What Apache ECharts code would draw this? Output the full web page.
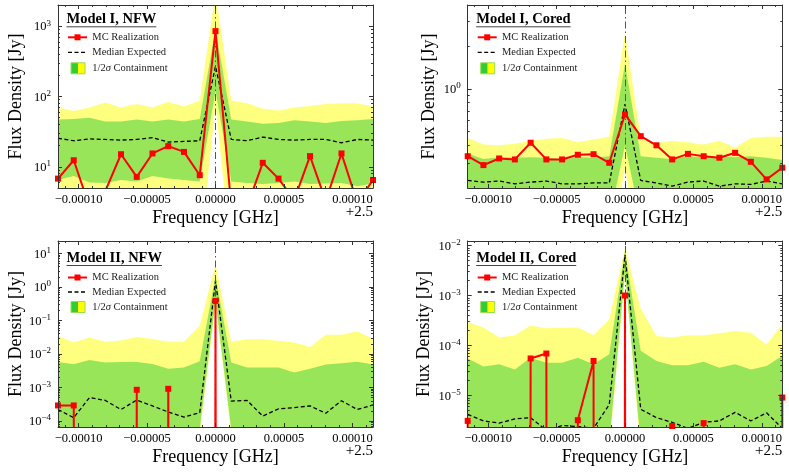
<!DOCTYPE html>
<html><head><meta charset="utf-8">
<script src="https://cdn.jsdelivr.net/npm/echarts@6/dist/echarts.min.js"></script>
<style>html,body{margin:0;padding:0;background:#fff}#c{width:789px;height:473px}</style>
</head><body><div id="c"></div>
<script>
// ---------------- DATA ----------------
// frequency offset from 2.5 GHz (bin centres)
const freqOffset = [-0.000115, -0.0001035, -0.000092, -0.0000805, -0.000069, -0.0000575, -0.000046, -0.0000345, -0.000023, -0.0000115, 0,
  0.0000115, 0.000023, 0.0000345, 0.000046, 0.0000575, 0.000069, 0.0000805, 0.000092, 0.0001035, 0.000115];
const xRange = [-0.000115, 0.000115];
const xOffsetLabel = '+2.5';
const panelTitles = ['Model I, NFW', 'Model I, Cored', 'Model II, NFW', 'Model II, Cored'];
const legendLabels = ['MC Realization', 'Median Expected', '1/2σ Containment'];
const xAxisName = 'Frequency [GHz]';
const yAxisName = 'Flux Density [Jy]';
const yRanges = [[5, 2000], [0.2, 3.9], [6.6e-5, 23.3], [2.34e-6, 0.0123]];

// Panel 1: Model I, NFW
const p1Mc  = [6.8, 12.4, 2.7, 4.5, 15.1, 7.2, 15.5, 19.7, 16.3, 7.6, 850, 2.8, 2.7, 11.4, 6.8, 3.4, 14.2, 3.3, 15.5, 3.1, 6.5];
const p1Med = [25.5, 23.5, 25, 24.5, 24, 24.5, 26, 22.5, 23, 23.5, 270, 24.5, 23.5, 26.5, 24.5, 24, 24.5, 24.5, 22, 24.5, 24];
const p1Hi1 = [47, 48, 50, 44, 44, 47, 44, 47, 44, 48, 900, 47, 44, 41, 42, 46, 44, 42, 45, 46, 48];
const p1Hi2 = [70, 62, 70, 82, 70, 78, 70, 84, 72, 88, 3000, 88, 80, 67, 63, 70, 73, 78, 80, 80, 72];
const p1Lo1 = [6.5, 7.4, 6.0, 5.9, 6.5, 6.2, 7.4, 6.8, 6.5, 6.2, 120, 6.2, 5.9, 5.7, 5.9, 6.2, 5.7, 5.8, 5.9, 5.3, 5.8];
const p1Lo2 = [3.6, 3.9, 3.4, 3.5, 3.7, 3.6, 4.0, 3.8, 3.6, 0.5, 80, 0.5, 3.5, 3.4, 3.5, 3.6, 3.3, 3.4, 3.5, 3.1, 3.4];

// Panel 2: Model I, Cored
const p2Mc  = [0.335, 0.29, 0.323, 0.318, 0.417, 0.318, 0.318, 0.343, 0.346, 0.301, 0.66, 0.464, 0.40, 0.318, 0.348, 0.335, 0.327, 0.354, 0.306, 0.23, 0.278];
const p2Med = [0.226, 0.22, 0.224, 0.214, 0.22, 0.224, 0.214, 0.214, 0.217, 0.217, 0.78, 0.226, 0.217, 0.206, 0.22, 0.224, 0.206, 0.214, 0.212, 0.224, 0.214];
const p2Hi1 = [0.35, 0.32, 0.33, 0.327, 0.33, 0.327, 0.32, 0.33, 0.327, 0.335, 1.5, 0.335, 0.327, 0.32, 0.335, 0.33, 0.335, 0.33, 0.335, 0.327, 0.315];
const p2Hi2 = [0.45, 0.405, 0.40, 0.41, 0.43, 0.445, 0.45, 0.42, 0.44, 0.46, 2.5, 0.45, 0.415, 0.43, 0.42, 0.405, 0.43, 0.385, 0.45, 0.46, 0.46];
const p2Lo1 = [0.17, 0.16, 0.17, 0.16, 0.165, 0.17, 0.16, 0.16, 0.165, 0.12, 0.4, 0.12, 0.165, 0.155, 0.165, 0.17, 0.155, 0.16, 0.16, 0.17, 0.16];
const p2Lo2 = [0.11, 0.1, 0.11, 0.1, 0.105, 0.11, 0.1, 0.1, 0.105, 0.06, 0.28, 0.06, 0.105, 0.095, 0.105, 0.11, 0.095, 0.1, 0.1, 0.11, 0.1];

// Panel 3: Model II, NFW  (0 = no flux in that bin)
const p3Mc  = [2.9e-4, 2.9e-4, 0, 0, 0, 8.5e-4, 0, 9.1e-4, 0, 0, 0.38, 0, 0, 0, 0, 0, 0, 0, 0, 0, 0];
const p3Med = [2.2e-4, 1.25e-4, 5e-4, 4.1e-4, 2.2e-4, 4.2e-4, 2.8e-4, 1.85e-4, 1.3e-4, 1.77e-4, 1.5, 3.9e-4, 4.1e-4, 1.4e-4, 2.3e-4, 2.5e-4, 2.8e-4, 1.7e-4, 4e-4, 2.2e-4, 3e-4];
const p3Hi1 = [0.0057, 0.0049, 0.0066, 0.0055, 0.0057, 0.0057, 0.005, 0.0036, 0.0039, 0.006, 2.1, 0.0055, 0.0039, 0.0039, 0.0039, 0.0028, 0.0036, 0.0048, 0.0053, 0.0058, 0.0048];
const p3Hi2 = [0.035, 0.022, 0.031, 0.023, 0.025, 0.032, 0.028, 0.023, 0.023, 0.069, 4.75, 0.023, 0.0275, 0.0275, 0.0245, 0.022, 0.016, 0.037, 0.037, 0.047, 0.028];
const p3Lo1 = [3.2e-5, 3.5e-5, 3e-5, 3.3e-5, 3.4e-5, 3.1e-5, 3.2e-5, 3e-5, 3.3e-5, 5.5e-5, 0.4, 5.5e-5, 3.2e-5, 3.4e-5, 3.1e-5, 3e-5, 3.3e-5, 3.2e-5, 3.5e-5, 3.1e-5, 3.3e-5];
const p3Lo2 = [1.2e-5, 1.3e-5, 1.1e-5, 1.2e-5, 1.3e-5, 1.1e-5, 1.2e-5, 1.1e-5, 1.2e-5, 4e-5, 0.3, 4e-5, 1.2e-5, 1.3e-5, 1.1e-5, 1.1e-5, 1.2e-5, 1.2e-5, 1.3e-5, 1.1e-5, 1.2e-5];

// Panel 4: Model II, Cored
const p4Mc  = [3.1e-6, 0, 0, 0, 5.5e-5, 6.9e-5, 0, 3.2e-6, 4.9e-5, 0, 1.0e-3, 0, 0, 2.45e-6, 0, 2.8e-6, 0, 0, 0, 0, 9.1e-6];
const p4Med = [4.2e-6, 3.1e-6, 2.8e-6, 3.4e-6, 3.6e-6, 2.0e-6, 2.5e-6, 2.4e-6, 2.2e-6, 6.6e-6, 6.5e-3, 5.3e-6, 3.6e-6, 2.9e-6, 2.2e-6, 2.9e-6, 3.1e-6, 4.6e-6, 3.1e-6, 4.5e-6, 2.2e-6];
const p4Hi1 = [5.5e-5, 3.8e-5, 4.2e-5, 3.3e-5, 5.7e-5, 4.5e-5, 4.5e-5, 5.7e-5, 4.2e-5, 6.7e-5, 7.8e-3, 7.8e-5, 4.9e-5, 4e-5, 4e-5, 4.7e-5, 3.6e-5, 4.2e-5, 3.3e-5, 3.9e-5, 6.2e-5];
const p4Hi2 = [2.95e-4, 2.3e-4, 1.44e-4, 1.6e-4, 2.5e-4, 2.2e-4, 2.3e-4, 2.3e-4, 1.6e-4, 3.3e-4, 9e-3, 5.4e-4, 1.55e-4, 1.44e-4, 1.6e-4, 1.6e-4, 1.75e-4, 1.95e-4, 1.8e-4, 1.05e-4, 2.65e-4];
const p4Lo1 = [1.6e-6, 1.5e-6, 1.6e-6, 1.4e-6, 1.5e-6, 1.6e-6, 1.5e-6, 1.4e-6, 1.5e-6, 1.1e-6, 3e-3, 1.1e-6, 1.5e-6, 1.6e-6, 1.4e-6, 1.5e-6, 1.6e-6, 1.5e-6, 1.4e-6, 1.5e-6, 1.6e-6];
const p4Lo2 = [6e-7, 5.5e-7, 6e-7, 5e-7, 6e-7, 5.5e-7, 6e-7, 5e-7, 5.5e-7, 8e-7, 2.5e-3, 8e-7, 5.5e-7, 6e-7, 5e-7, 6e-7, 5.5e-7, 6e-7, 5e-7, 5.5e-7, 6e-7];

const panels = [
  {mc: p1Mc, med: p1Med, hi1: p1Hi1, hi2: p1Hi2, lo1: p1Lo1, lo2: p1Lo2},
  {mc: p2Mc, med: p2Med, hi1: p2Hi1, hi2: p2Hi2, lo1: p2Lo1, lo2: p2Lo2},
  {mc: p3Mc, med: p3Med, hi1: p3Hi1, hi2: p3Hi2, lo1: p3Lo1, lo2: p3Lo2},
  {mc: p4Mc, med: p4Med, hi1: p4Hi1, hi2: p4Hi2, lo1: p4Lo1, lo2: p4Lo2}
];

// ---------------- LAYOUT / STYLE ----------------
const SERIF = '"Liberation Serif", "DejaVu Serif", serif';
const grids = [
  {left: 58, top: 5, width: 315, height: 183},
  {left: 467.7, top: 5, width: 314.6, height: 183},
  {left: 58, top: 241, width: 315, height: 186},
  {left: 467.7, top: 241, width: 314.6, height: 186}
];
const yNameGap = [33, 29, 33, 34];
const FRAME = '#333';
const YELLOW = 'rgba(255,255,0,0.5)';
const GREEN = 'rgba(51,204,51,0.5)';
const LOG_FLOOR = 1e-300; // zero-flux bins drawn far below the axis (vertical drops)

function fmtX(v) {
  const q = v / 0.00005;
  if (Math.abs(q - Math.round(q)) > 1e-6) return '';
  return (Math.round(q) * 0.00005).toFixed(5).replace('-', '\u2212');
}
function fmtY(v) {
  const l = Math.log10(v), e = Math.round(l);
  if (Math.abs(l - e) > 1e-6) return '';
  return '{b|10}{e|' + (e < 0 ? '\u2212' + (-e) : e) + '}';
}
const yRich = {
  b: {fontFamily: SERIF, fontSize: 12.5, color: '#000', lineHeight: 15, verticalAlign: 'bottom'},
  e: {fontFamily: SERIF, fontSize: 9, color: '#000', lineHeight: 9, verticalAlign: 'top'}
};

function bandRenderer(fill) {
  return function (params, api) {
    if (params.dataIndex !== 0) return null;
    const n = freqOffset.length;
    const up = [], dn = [];
    for (let j = 0; j < n; j++) {
      up.push(api.coord([api.value(0, j), api.value(2, j)]));
      dn.push(api.coord([api.value(0, j), api.value(1, j)]));
    }
    const cs = params.coordSys;
    return {
      type: 'polygon',
      shape: {points: up.concat(dn.reverse())},
      style: {fill: fill, stroke: null},
      clipPath: {type: 'rect', shape: {x: cs.x, y: cs.y, width: cs.width, height: cs.height}}
    };
  };
}

const xAxes = [], yAxes = [], series = [], graphics = [];
const tickCommon = {inside: true, length: 4, lineStyle: {color: FRAME, width: 1}};
const lineCommon = {show: true, onZero: false, lineStyle: {color: FRAME, width: 1}};

panels.forEach((p, i) => {
  const g = grids[i];
  xAxes.push({
    type: 'value', gridIndex: i, min: xRange[0], max: xRange[1], position: 'bottom', z: 10,
    axisLine: lineCommon, axisTick: tickCommon,
    minorTick: {show: true, splitNumber: 5, length: 2, lineStyle: {color: FRAME}},
    splitLine: {show: false},
    axisLabel: {margin: 5, fontFamily: SERIF, fontSize: 12.5, color: '#000', formatter: fmtX},
    name: xAxisName, nameLocation: 'middle', nameGap: 21,
    nameTextStyle: {fontFamily: SERIF, fontSize: 18, color: '#000'}
  });
  xAxes.push({
    type: 'value', gridIndex: i, min: xRange[0], max: xRange[1], position: 'top', z: 10,
    axisLine: lineCommon, axisTick: tickCommon,
    minorTick: {show: true, splitNumber: 5, length: 2, lineStyle: {color: FRAME}},
    splitLine: {show: false}, axisLabel: {show: false}
  });
  yAxes.push({
    type: 'log', logBase: 10, gridIndex: i, min: yRanges[i][0], max: yRanges[i][1], position: 'left', z: 10,
    axisLine: lineCommon, axisTick: tickCommon,
    minorTick: {show: true, splitNumber: 9, length: 2, lineStyle: {color: FRAME}},
    splitLine: {show: false}, minorSplitLine: {show: false},
    axisLabel: {margin: 7, formatter: fmtY, rich: yRich},
    name: yAxisName, nameLocation: 'middle', nameGap: yNameGap[i],
    nameTextStyle: {fontFamily: SERIF, fontSize: 18, color: '#000'}
  });
  yAxes.push({
    type: 'log', logBase: 10, gridIndex: i, min: yRanges[i][0], max: yRanges[i][1], position: 'right', z: 10,
    axisLine: lineCommon, axisTick: tickCommon,
    minorTick: {show: true, splitNumber: 9, length: 2, lineStyle: {color: FRAME}},
    splitLine: {show: false}, axisLabel: {show: false}
  });

  const xi = 2 * i, yi = 2 * i;
  series.push({
    type: 'custom', xAxisIndex: xi, yAxisIndex: yi, silent: true, z: 1, clip: true,
    renderItem: bandRenderer(YELLOW),
    encode: {x: 0, y: [1, 2]},
    data: freqOffset.map((x, j) => [x, p.lo2[j], p.hi2[j]])
  });
  series.push({
    type: 'custom', xAxisIndex: xi, yAxisIndex: yi, silent: true, z: 1.5, clip: true,
    renderItem: bandRenderer(GREEN),
    encode: {x: 0, y: [1, 2]},
    data: freqOffset.map((x, j) => [x, p.lo1[j], p.hi1[j]])
  });
  series.push({
    type: 'line', xAxisIndex: xi, yAxisIndex: yi, silent: true, z: 3, clip: true,
    symbol: 'none', lineStyle: {color: '#000', width: 1.3, type: [4, 2.5]},
    data: freqOffset.map((x, j) => [x, p.med[j]]),
    markLine: {
      silent: true, symbol: ['none', 'none'], label: {show: false},
      lineStyle: {color: '#555', width: 1, type: [7, 3, 1.5, 3]},
      emphasis: {disabled: true},
      data: [{xAxis: 0}]
    }
  });
  series.push({
    type: 'line', xAxisIndex: xi, yAxisIndex: yi, silent: true, z: 4, clip: true,
    symbol: 'rect', symbolSize: 6, showAllSymbol: true,
    itemStyle: {color: '#ff0000'},
    lineStyle: {color: '#ff0000', width: 2},
    data: freqOffset.map((x, j) => [x, p.mc[j] > 0 ? p.mc[j] : LOG_FLOOR])
  });

  // ---------- legend (drawn as graphics) ----------
  const L = g.left, T = g.top;
  const off = i < 2 ? {t: 14, u: 21.8, it: [32.3, 47.3, 63.3]} : {t: 17, u: 24.5, it: [36.5, 51, 66]};
  const titleFont = 'bold 14.5px ' + SERIF;
  const ctx = document.createElement('canvas').getContext('2d');
  ctx.font = titleFont;
  const tw = ctx.measureText(panelTitles[i]).width;
  const tx = L + 8.5;
  graphics.push({type: 'text', x: tx, y: T + off.t, z: 50,
    style: {text: panelTitles[i], font: titleFont, fill: '#000', align: 'left', verticalAlign: 'middle'}});
  graphics.push({type: 'line', z: 50, shape: {x1: tx, y1: T + off.u, x2: tx + tw, y2: T + off.u},
    style: {stroke: '#444', lineWidth: 1}});
  const ix0 = L + 10, ix1 = L + 29, txt = L + 34.3;
  const itemFont = '10.5px ' + SERIF;
  graphics.push({type: 'line', z: 50, shape: {x1: ix0, y1: T + off.it[0], x2: ix1, y2: T + off.it[0]},
    style: {stroke: '#ff0000', lineWidth: 2}});
  graphics.push({type: 'rect', z: 51, shape: {x: (ix0 + ix1) / 2 - 3, y: T + off.it[0] - 3, width: 6, height: 6},
    style: {fill: '#ff0000'}});
  graphics.push({type: 'text', x: txt, y: T + off.it[0], z: 50,
    style: {text: legendLabels[0], font: itemFont, fill: '#222', align: 'left', verticalAlign: 'middle'}});
  graphics.push({type: 'line', z: 50, shape: {x1: ix0, y1: T + off.it[1], x2: ix1, y2: T + off.it[1]},
    style: {stroke: '#000', lineWidth: 1.3, lineDash: [4, 2.5]}});
  graphics.push({type: 'text', x: txt, y: T + off.it[1], z: 50,
    style: {text: legendLabels[1], font: itemFont, fill: '#222', align: 'left', verticalAlign: 'middle'}});
  const py = T + off.it[2];
  graphics.push({type: 'rect', z: 50, shape: {x: L + 13, y: py - 5.5, width: 7, height: 11}, style: {fill: '#33cc33'}});
  graphics.push({type: 'rect', z: 50, shape: {x: L + 20, y: py - 5.5, width: 7, height: 11}, style: {fill: '#ffff00'}});
  graphics.push({type: 'rect', z: 51, shape: {x: L + 13, y: py - 5.5, width: 14, height: 11},
    style: {fill: null, stroke: '#99dd55', lineWidth: 1}});
  const parts = legendLabels[2].split('σ');
  graphics.push({type: 'text', x: txt, y: py, z: 50,
    style: {
      text: '{n|' + parts[0] + '}{s|σ}{n|' + parts[1] + '}',
      align: 'left', verticalAlign: 'middle',
      rich: {
        n: {fontFamily: SERIF, fontSize: 10.5, fill: '#222', color: '#222'},
        s: {fontFamily: SERIF, fontSize: 10.5, fontStyle: 'italic', fill: '#222', color: '#222'}
      }
    }});
  graphics.push({type: 'text', x: L + g.width, y: T + g.height + 24, z: 50,
    style: {text: xOffsetLabel, font: '15px ' + SERIF, fill: '#000', align: 'right', verticalAlign: 'middle'}});
});

const chart = echarts.init(document.getElementById('c'), null, {renderer: 'canvas'});
chart.setOption({
  animation: false,
  backgroundColor: '#fff',
  grid: grids.map(g => Object.assign({show: false}, g)),
  xAxis: xAxes,
  yAxis: yAxes,
  series: series,
  graphic: graphics
});
</script>
</body></html>
